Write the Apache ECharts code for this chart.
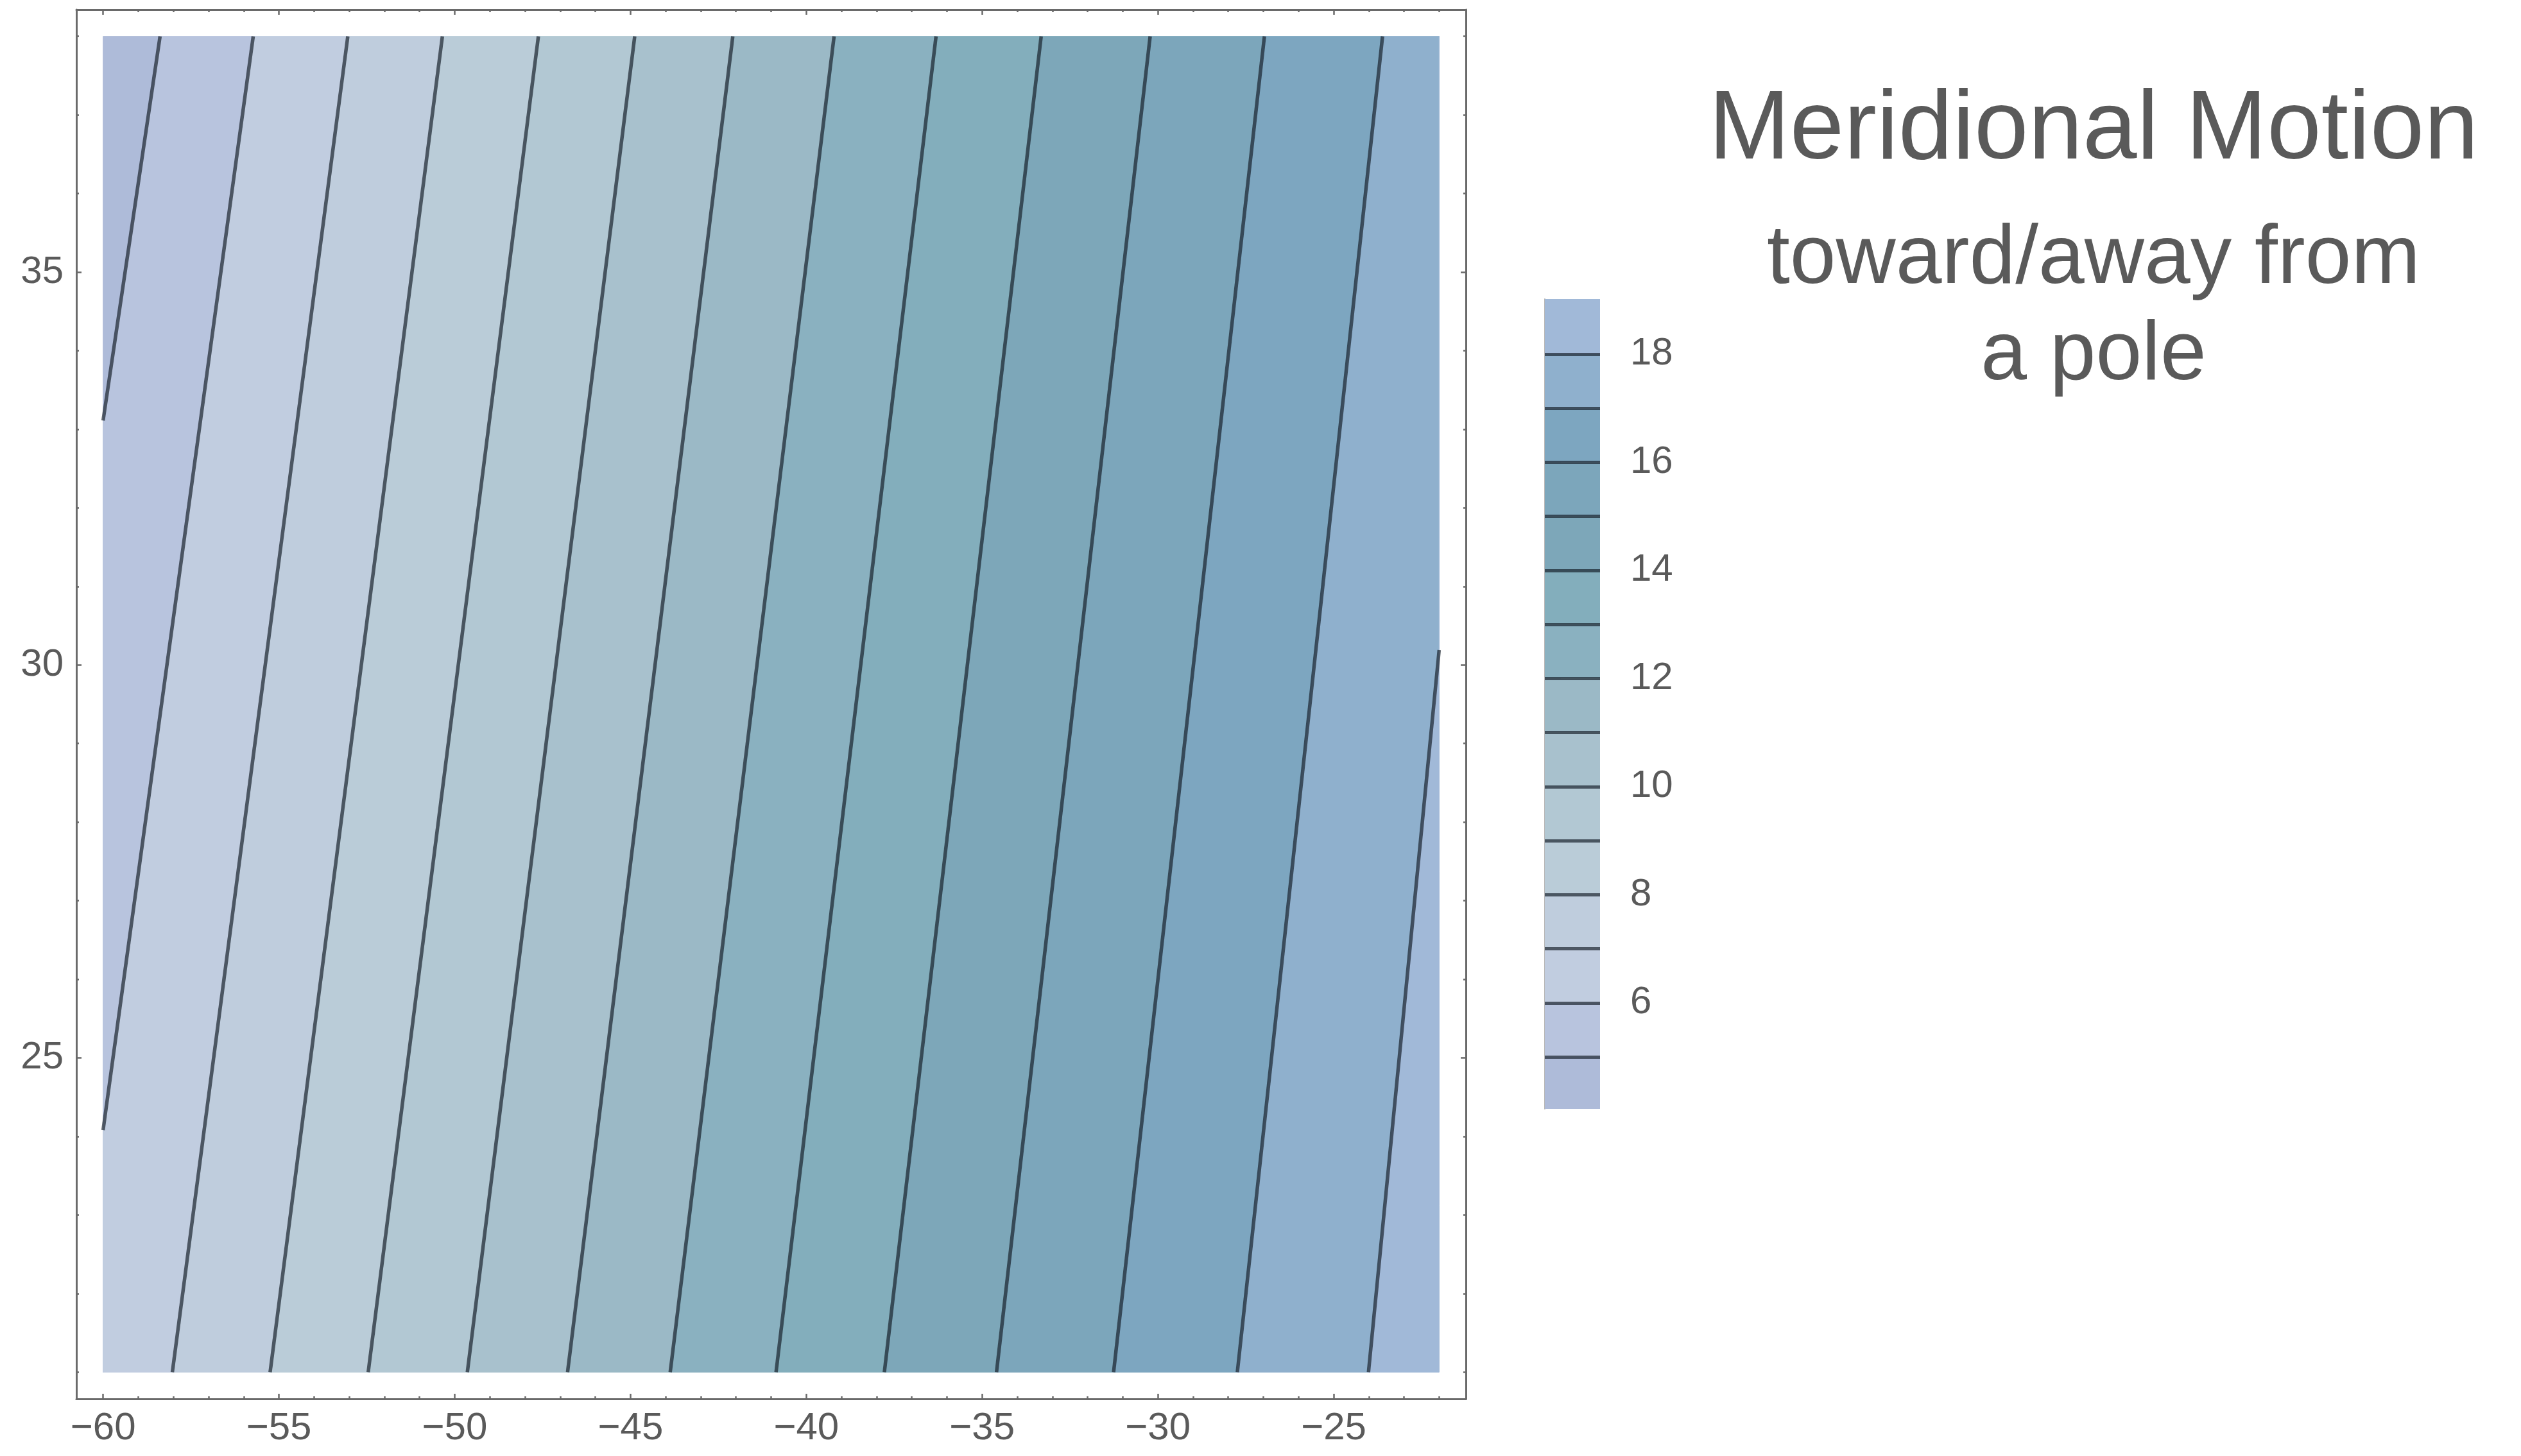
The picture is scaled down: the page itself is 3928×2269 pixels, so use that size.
<!DOCTYPE html>
<html>
<head>
<meta charset="utf-8">
<title>Meridional Motion</title>
<script src="https://cdn.jsdelivr.net/npm/echarts@6/dist/echarts.min.js"></script>
<style>
  html, body { margin: 0; padding: 0; background: #ffffff; }
  #chart { width: 3928px; height: 2269px; }
</style>
</head>
<body>
<div id="chart"></div>
<script>
// data rectangle of the plot and the small frame padding round it
const xRange = [-60, -22];
const yRange = [21, 38];
const xPad = 0.76;
const yPad = 0.34;

const xMajorTicks = [-60, -55, -50, -45, -40, -35, -30, -25];
const yMajorTicks = [25, 30, 35];
const legendTicks = [6, 8, 10, 12, 14, 16, 18];

// contour levels and the ends of each contour line
const levels = [5, 6, 7, 8, 9, 10, 11, 12, 13, 14, 15, 16, 17, 18];
const contourPaths = [
  [[-60, 33.11], [-58.38, 38]],
  [[-60, 24.08], [-55.73, 38]],
  [[-58.03, 21], [-53.04, 38]],
  [[-55.25, 21], [-50.35, 38]],
  [[-52.46, 21], [-47.62, 38]],
  [[-49.64, 21], [-44.88, 38]],
  [[-46.79, 21], [-42.09, 38]],
  [[-43.87, 21], [-39.21, 38]],
  [[-40.86, 21], [-36.31, 38]],
  [[-37.78, 21], [-33.32, 38]],
  [[-34.59, 21], [-30.22, 38]],
  [[-31.26, 21], [-26.97, 38]],
  [[-27.74, 21], [-23.61, 38]],
  [[-24.01, 21], [-22, 30.19]]
];

// value span of the colour bar
const legendRange = [4.04, 19.02];

// band fills, lowest band first
const bandColors = [
  '#aebbd9', '#b8c4de', '#c1cde0', '#bfcddd', '#baccd8',
  '#b2c8d3', '#a8c1cd', '#9bb9c6', '#8ab1c0', '#83aebc',
  '#7da7b9', '#7ca6bb', '#7da6c0', '#8fb0cd', '#a1b9d8'
];

const textColor = '#5a5a5a';
const frameColor = '#6a6a6a';
const lineColor = 'rgba(20, 30, 40, 0.68)';
const fontFamily = '"Liberation Sans", Arial, sans-serif';

// minor ticks every unit
let xMinorTicks = [];
for (let v = xRange[0]; v <= xRange[1]; v++) xMinorTicks.push(v);
let yMinorTicks = [];
for (let v = yRange[0]; v <= yRange[1]; v++) yMinorTicks.push(v);

// edge of band i, running bottom to top, closed along the plot border
function boundary (i) {
  if (i === 0) return [[xRange[0], yRange[0]], [xRange[0], yRange[1]]];
  if (i === levels.length + 1) return [[xRange[1], yRange[0]], [xRange[1], yRange[1]]];
  let p = contourPaths[i - 1].slice();
  if (p[0][1] > yRange[0]) p.unshift([xRange[0], yRange[0]]);
  if (p[p.length - 1][1] < yRange[1]) p.push([xRange[1], yRange[1]]);
  return p;
}

let bandPolys = [];
for (let i = 0; i <= levels.length; i++) {
  bandPolys.push(boundary(i).concat(boundary(i + 1).slice().reverse()));
}

function minus (v) {
  return v < 0 ? '\u2212' + Math.abs(v) : String(v);
}

function frameAxis (kind, position, ticks, len, withLabel, withLine) {
  let isX = kind === 'x';
  return {
    gridIndex: 0,
    type: 'value',
    position: position,
    min: isX ? xRange[0] - xPad : yRange[0] - yPad,
    max: isX ? xRange[1] + xPad : yRange[1] + yPad,
    axisLine: {
      show: withLine,
      onZero: false,
      lineStyle: { color: frameColor, width: 3 }
    },
    axisTick: {
      show: true,
      inside: true,
      length: len,
      customValues: ticks,
      lineStyle: { color: frameColor, width: 2.5 }
    },
    axisLabel: {
      show: withLabel,
      customValues: ticks,
      formatter: minus,
      margin: isX ? 16 : 20,
      fontSize: 60,
      fontFamily: fontFamily,
      color: textColor
    },
    splitLine: { show: false }
  };
}

let myChart = echarts.init(document.getElementById('chart'), null, { renderer: 'canvas' });

myChart.setOption({
  backgroundColor: '#ffffff',
  animation: false,
  title: [{
    text: 'Meridional Motion',
    left: 3262,
    top: 129,
    textAlign: 'center',
    padding: 0,
    textStyle: {
      fontSize: 152,
      lineHeight: 152,
      fontWeight: 'normal',
      fontFamily: fontFamily,
      color: textColor
    }
  }, {
    text: 'toward/away from\na pole',
    left: 3262,
    top: 330,
    textAlign: 'center',
    padding: 0,
    textStyle: {
      fontSize: 129,
      lineHeight: 150,
      fontWeight: 'normal',
      fontFamily: fontFamily,
      color: textColor,
      align: 'center'
    }
  }],
  grid: [
    { left: 119, top: 15, width: 2165, height: 2165 },
    { left: 2407, top: 466, width: 86, height: 1262 }
  ],
  xAxis: [
    frameAxis('x', 'bottom', xMajorTicks, 8, true, true),
    frameAxis('x', 'bottom', xMinorTicks, 4, false, false),
    frameAxis('x', 'top', xMajorTicks, 8, false, true),
    frameAxis('x', 'top', xMinorTicks, 4, false, false),
    { gridIndex: 1, type: 'value', min: 0, max: 1, show: false }
  ],
  yAxis: [
    frameAxis('y', 'left', yMajorTicks, 8, true, true),
    frameAxis('y', 'left', yMinorTicks, 4, false, false),
    frameAxis('y', 'right', yMajorTicks, 8, false, true),
    frameAxis('y', 'right', yMinorTicks, 4, false, false),
    {
      gridIndex: 1,
      type: 'value',
      position: 'right',
      min: legendRange[0],
      max: legendRange[1],
      axisLine: { show: true, lineStyle: { color: '#b8b8b8', width: 2 } },
      axisTick: {
        show: true,
        length: 25,
        customValues: legendTicks,
        lineStyle: { color: '#c8c8c8', width: 2 }
      },
      axisLabel: {
        customValues: legendTicks,
        margin: 47,
        fontSize: 60,
        fontFamily: fontFamily,
        color: textColor
      },
      splitLine: { show: false }
    }
  ],
  series: [
    {
      // filled bands between contours
      type: 'custom',
      xAxisIndex: 0,
      yAxisIndex: 0,
      clip: true,
      silent: true,
      data: bandPolys.map(function (p, i) { return [p[0][0], p[0][1], i]; }),
      renderItem: function (params, api) {
        let i = api.value(2);
        return {
          type: 'polygon',
          shape: { points: bandPolys[i].map(function (pt) { return api.coord(pt); }) },
          style: { fill: bandColors[i], stroke: bandColors[i], lineWidth: 1 }
        };
      }
    },
    {
      // contour lines
      type: 'lines',
      coordinateSystem: 'cartesian2d',
      xAxisIndex: 0,
      yAxisIndex: 0,
      polyline: true,
      silent: true,
      lineStyle: { color: lineColor, width: 5.5, opacity: 1 },
      data: contourPaths.map(function (p) { return { coords: p }; })
    },
    {
      // colour bar bands
      type: 'custom',
      xAxisIndex: 4,
      yAxisIndex: 4,
      silent: true,
      data: bandColors.map(function (c, i) {
        let lo = i === 0 ? legendRange[0] : levels[i - 1];
        let hi = i === levels.length ? legendRange[1] : levels[i];
        return [0, lo, hi, i];
      }),
      renderItem: function (params, api) {
        let a = api.coord([0, api.value(1)]);
        let b = api.coord([1, api.value(2)]);
        return {
          type: 'rect',
          shape: { x: a[0], y: b[1], width: b[0] - a[0], height: a[1] - b[1] },
          style: { fill: bandColors[api.value(3)] }
        };
      }
    },
    {
      // colour bar level lines
      type: 'lines',
      coordinateSystem: 'cartesian2d',
      xAxisIndex: 4,
      yAxisIndex: 4,
      silent: true,
      lineStyle: { color: lineColor, width: 5, opacity: 1 },
      data: levels.map(function (l) { return { coords: [[0, l], [1, l]] }; })
    }
  ]
});
</script>
</body>
</html>
